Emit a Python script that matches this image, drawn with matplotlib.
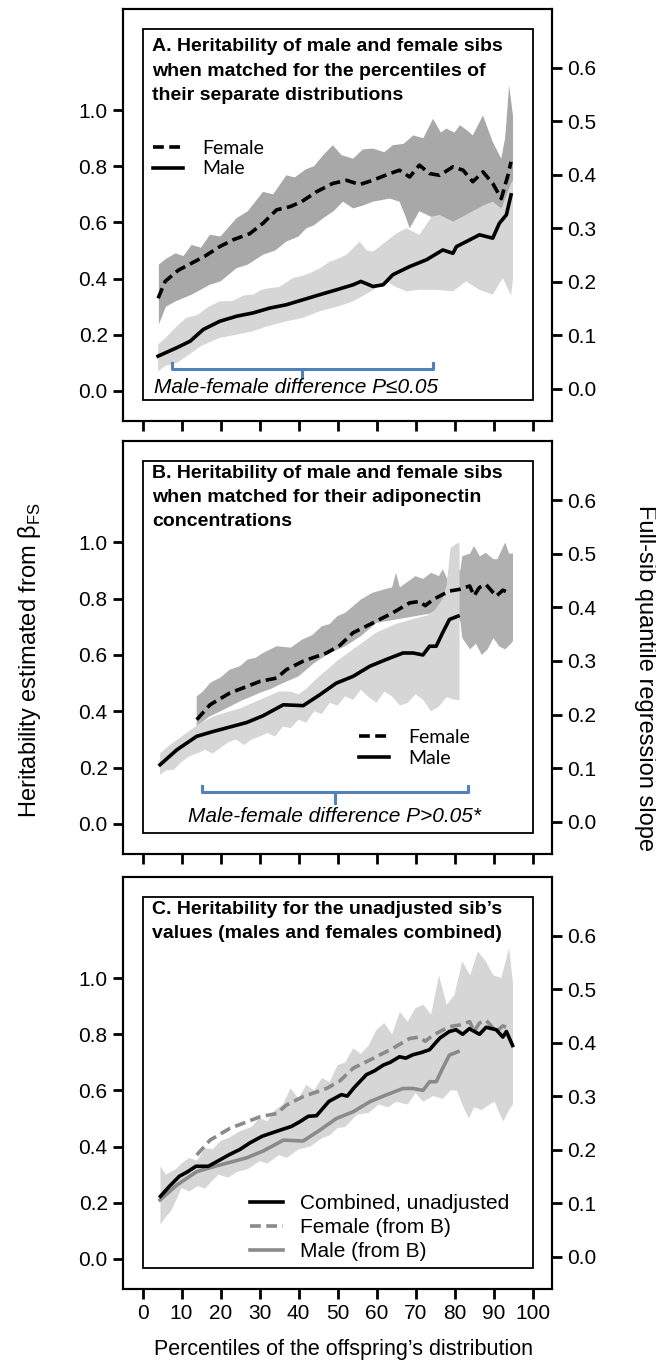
import numpy as np
import matplotlib.pyplot as plt
from matplotlib.patches import Rectangle

plt.rcParams['font.family'] = ['Liberation Sans', 'DejaVu Sans']
plt.rcParams['mathtext.fontset'] = 'custom'
plt.rcParams['mathtext.rm'] = 'Liberation Sans'

# ---- Panel A: matched on percentiles of separate distributions ----
a_fem_x = [4, 5.8, 9.2, 12.6, 16, 19.8, 23.2, 27.5, 30.9, 34.4, 37.8, 40.8, 44.6, 48.8, 52.3, 55.7,
           59, 63.4, 65.9, 68.5, 71, 73.6, 76.2, 79.6, 82.2, 84.7, 87.3, 89.8, 92, 93.7, 94.5]
a_fem_y = [0.33, 0.39, 0.43, 0.455, 0.48, 0.514, 0.538, 0.56, 0.597, 0.645, 0.656, 0.674, 0.709, 0.739,
           0.75, 0.735, 0.75, 0.774, 0.786, 0.762, 0.804, 0.774, 0.768, 0.798, 0.786, 0.745, 0.78, 0.739,
           0.685, 0.768, 0.816]
a_male_x = [4, 8.8, 12.2, 15.6, 19.8, 24.1, 28.4, 32.6, 36.9, 41.2, 45.5, 49.7, 54, 56, 59.1, 61.7,
            64.2, 68.5, 72.8, 77, 79.6, 80.5, 83.9, 86.4, 89.8, 91.5, 93.3, 94.5]
a_male_y = [0.124, 0.154, 0.177, 0.219, 0.248, 0.266, 0.278, 0.295, 0.307, 0.325, 0.343, 0.36, 0.378,
            0.39, 0.372, 0.378, 0.414, 0.443, 0.467, 0.502, 0.49, 0.514, 0.538, 0.556, 0.544, 0.597,
            0.627, 0.698]

a_fband_xu = [4.2, 6, 8.5, 10.5, 12.6, 15, 17.3, 20, 24.1, 27, 30.9, 33.5, 36.9, 39, 42, 44, 46.3, 48.8,
              51, 54, 56.5, 59.1, 62, 64.2, 67, 69.4, 72, 74.5, 76.5, 77.9, 80, 81.4, 83, 84.7, 87.3,
              89.8, 92, 93, 94, 95]
a_fband_up = [0.45, 0.47, 0.49, 0.48, 0.52, 0.51, 0.556, 0.55, 0.615, 0.64, 0.709, 0.70, 0.768, 0.76,
              0.79, 0.80, 0.839, 0.875, 0.84, 0.827, 0.86, 0.863, 0.85, 0.875, 0.88, 0.91, 0.90, 0.969,
              0.92, 0.934, 0.92, 0.946, 0.93, 0.91, 0.981, 0.887, 0.827, 0.90, 1.088, 0.98]
a_fband_xl = [4.2, 6, 8.5, 12.6, 17.3, 20, 24.1, 27, 30.9, 34, 36.9, 40, 42, 44, 46.3, 49, 51.4, 54,
              56.5, 59.1, 63.4, 65.9, 67.5, 68.5, 71, 74, 76.2, 79.6, 82, 84.7, 87.3, 89.8, 92, 94.5, 95]
a_fband_lo = [0.237, 0.30, 0.319, 0.343, 0.378, 0.39, 0.437, 0.45, 0.485, 0.50, 0.532, 0.55, 0.579,
              0.59, 0.615, 0.64, 0.674, 0.65, 0.66, 0.674, 0.685, 0.674, 0.62, 0.579, 0.64, 0.62, 0.627,
              0.603, 0.62, 0.64, 0.66, 0.674, 0.65, 0.739, 0.75]
a_mband_xu = [4, 6, 8.8, 11.2, 14, 17, 19.8, 23, 26, 28.4, 30.5, 32.6, 35, 38.6, 41, 43, 45.5, 48, 50,
              52.3, 55.7, 57.5, 59.1, 62.5, 65, 67.7, 71, 74.5, 77, 79.6, 83, 86.4, 89.8, 92.4, 94, 95]
a_mband_up = [0.165, 0.19, 0.23, 0.26, 0.27, 0.30, 0.319, 0.32, 0.34, 0.343, 0.36, 0.366, 0.37, 0.402,
              0.41, 0.42, 0.437, 0.46, 0.47, 0.485, 0.532, 0.50, 0.496, 0.532, 0.56, 0.579, 0.556,
              0.627, 0.65, 0.674, 0.685, 0.709, 0.674, 0.85, 0.99, 0.85]
a_mband_xl = [4, 6, 8.8, 12, 15, 19.8, 24, 28.4, 32, 36.9, 41, 45.5, 50, 54, 58, 62.5, 65, 67.7, 71, 75,
              79.6, 83, 86.4, 89.8, 92.4, 94.5, 95]
a_mband_lo = [0.07, 0.09, 0.10, 0.13, 0.16, 0.189, 0.20, 0.213, 0.23, 0.248, 0.26, 0.284, 0.30, 0.319,
              0.35, 0.39, 0.37, 0.355, 0.36, 0.36, 0.355, 0.39, 0.36, 0.343, 0.402, 0.34, 0.40]
a_sig = (7.5, 74.4)

# ---- Panel B: matched on adiponectin concentrations ----
b_fem_x = [13.9, 17.3, 22.4, 25.8, 30.1, 34.4, 36.9, 41.2, 47.2, 50.6, 54, 59.1, 64.2, 68.5, 71, 72.5,
           74.5, 78.7, 81.3, 83.9, 85, 86.4, 88.1, 90.7, 92.4, 94.1]
b_fem_y = [0.37, 0.423, 0.465, 0.483, 0.506, 0.518, 0.548, 0.578, 0.607, 0.634, 0.679, 0.714, 0.75,
           0.785, 0.79, 0.775, 0.797, 0.827, 0.833, 0.845, 0.81, 0.84, 0.85, 0.809, 0.83, 0.82]
b_male_x = [4.5, 8.8, 13.9, 18.1, 22.4, 26.7, 30.9, 36.1, 41.2, 45.5, 49.7, 54, 58.3, 62.5, 66.8, 69.4,
            71.9, 73.6, 75.3, 77, 78.7, 80.9]
b_male_y = [0.21, 0.263, 0.311, 0.328, 0.344, 0.36, 0.384, 0.423, 0.42, 0.459, 0.5, 0.524, 0.56, 0.584,
            0.607, 0.607, 0.6, 0.631, 0.631, 0.68, 0.726, 0.738]

b_fband_xu = [13.9, 15.5, 17.3, 20, 22.4, 25, 27, 29, 30.9, 34.4, 38, 41, 43.5, 46, 48, 50, 52, 54, 56,
              59, 62, 64, 65, 66, 68, 70, 72, 74, 76, 77, 78.5, 80, 81.5, 82, 84, 85, 86.5, 88, 90, 91,
              93, 94, 95]
b_fband_up = [0.453, 0.47, 0.50, 0.52, 0.548, 0.56, 0.584, 0.59, 0.607, 0.631, 0.626, 0.655, 0.67,
              0.702, 0.71, 0.738, 0.75, 0.773, 0.797, 0.821, 0.833, 0.84, 0.892, 0.84, 0.86, 0.88, 0.87,
              0.892, 0.88, 0.904, 0.86, 0.90, 0.90, 0.951, 0.96, 0.987, 0.95, 0.963, 0.94, 0.94, 1.0,
              0.96, 0.96]
b_fband_xl = [13.9, 17, 20, 25, 30, 33, 36, 40, 44, 48, 52, 56, 60, 65, 70, 75, 79, 81.5, 82, 84, 85.5,
              87, 88.5, 90, 91.5, 93, 94.5, 95]
b_fband_lo = [0.346, 0.38, 0.40, 0.435, 0.465, 0.48, 0.50, 0.524, 0.571, 0.607, 0.631, 0.667, 0.714,
              0.726, 0.738, 0.75, 0.74, 0.72, 0.66, 0.62, 0.64, 0.60, 0.62, 0.66, 0.63, 0.62, 0.64, 0.65]
b_mband_xu = [4.5, 7, 10, 12, 15, 18, 20, 25, 30, 35, 38, 40, 42, 45, 50, 55, 60, 65, 70, 73, 75, 77,
              78, 79, 80, 81, 81.3]
b_mband_up = [0.25, 0.28, 0.31, 0.33, 0.36, 0.38, 0.39, 0.41, 0.44, 0.47, 0.47, 0.46, 0.48, 0.52, 0.58,
              0.63, 0.68, 0.71, 0.73, 0.74, 0.76, 0.80, 0.85, 0.98, 0.99, 1.0, 0.99]
b_mband_xl = [4.5, 6, 8, 10, 12, 14, 16, 18, 20, 22, 24, 26, 28, 30, 32, 34, 36, 38, 40, 42, 44, 46, 48,
              50, 52, 54, 56, 58, 60, 62, 64, 66, 68, 70, 72, 74, 76, 78, 80, 81.3]
b_mband_lo = [0.174, 0.19, 0.192, 0.22, 0.24, 0.25, 0.263, 0.25, 0.27, 0.29, 0.30, 0.28, 0.30, 0.31,
              0.323, 0.31, 0.346, 0.34, 0.37, 0.36, 0.40, 0.39, 0.43, 0.42, 0.453, 0.44, 0.477, 0.45,
              0.43, 0.47, 0.453, 0.42, 0.43, 0.46, 0.44, 0.40, 0.417, 0.45, 0.441, 0.44]
b_sig = (15.2, 83.4)

# ---- Panel C: unadjusted, sexes combined ----
c_comb_x = [4.6, 7, 9.4, 11.5, 13.7, 16.9, 19.5, 22.2, 25, 27.5, 30.7, 34.5, 38.2, 40.5, 42.5, 44.6,
            47.8, 51, 52.5, 54.2, 57.4, 59.5, 61.7, 63.5, 65.9, 67.5, 69.3, 71.5, 73.6, 76.2, 78.7, 80.4,
            82.1, 83.8, 86.4, 88.1, 90.7, 92.4, 93.3, 94.9]
c_comb_y = [0.223, 0.26, 0.294, 0.31, 0.33, 0.33, 0.35, 0.371, 0.39, 0.413, 0.437, 0.455, 0.472, 0.49,
            0.508, 0.51, 0.561, 0.585, 0.58, 0.609, 0.656, 0.67, 0.69, 0.70, 0.72, 0.715, 0.727, 0.735,
            0.745, 0.786, 0.81, 0.816, 0.80, 0.82, 0.80, 0.825, 0.816, 0.79, 0.81, 0.76]
c_band_xu = [4.6, 6, 8.6, 10, 12, 14, 16, 18, 20, 22, 25, 28, 30, 32, 34, 36, 38, 40, 42, 44, 46, 48, 50,
             52, 54, 56, 58, 60, 62, 64, 66, 68, 70, 72, 74, 76, 78, 80, 82, 84, 86, 88, 90, 92, 94, 95]
c_band_up = [0.33, 0.30, 0.32, 0.34, 0.36, 0.35, 0.395, 0.39, 0.42, 0.43, 0.455, 0.47, 0.502, 0.49, 0.53,
             0.55, 0.608, 0.57, 0.62, 0.60, 0.644, 0.63, 0.69, 0.70, 0.75, 0.73, 0.76, 0.816, 0.84, 0.80,
             0.88, 0.845, 0.893, 0.905, 0.87, 1.01, 0.905, 0.94, 1.06, 1.01, 1.095, 1.06, 1.01, 1.0,
             1.107, 0.98]
c_band_xl = [4.6, 6, 7.3, 9, 10, 12, 14.2, 16, 18, 19.5, 22, 24.3, 27, 30, 32, 35, 37, 40, 43, 46, 48, 50,
             52, 55, 58, 60.6, 63, 65, 68, 70, 72, 74.5, 77, 79, 80.6, 82, 83.7, 85, 87, 89, 90.3, 91.5,
             92.5, 94, 95]
c_band_lo = [0.122, 0.15, 0.17, 0.22, 0.253, 0.24, 0.26, 0.25, 0.28, 0.30, 0.29, 0.31, 0.32, 0.348, 0.34,
             0.37, 0.36, 0.39, 0.40, 0.43, 0.44, 0.466, 0.47, 0.514, 0.52, 0.55, 0.54, 0.56, 0.55, 0.59,
             0.56, 0.58, 0.57, 0.60, 0.60, 0.55, 0.50, 0.54, 0.53, 0.55, 0.56, 0.52, 0.49, 0.53, 0.55]

left_ticks = [0.0, 0.2, 0.4, 0.6, 0.8, 1.0]
right_ticks = [0.0, 0.1, 0.2, 0.3, 0.4, 0.5, 0.6]
x_ticks = [0, 10, 20, 30, 40, 50, 60, 70, 80, 90, 100]

titles = ["A. Heritability of male and female sibs\nwhen matched for the percentiles of\ntheir separate distributions",
          "B. Heritability of male and female sibs\nwhen matched for their adiponectin\nconcentrations",
          "C. Heritability for the unadjusted sib\u2019s\nvalues (males and females combined)"]

DARK = '#a8a8a8'
LIGHT = '#d6d6d6'
MID = '#8a8a8a'
BLUE = '#4f81bd'
W, H = 656, 1363

fig = plt.figure(figsize=(W / 100, H / 100), dpi=100)


def band(ax, xu, yu, xl, yl, color, z):
    xs = list(xu) + list(xl)[::-1]
    ys = list(yu) + list(yl)[::-1]
    ax.fill(xs, ys, color=color, lw=0, zorder=z)


def bracket(ax, x0, x1, y, up, down):
    xm = (x0 + x1) / 2
    ax.plot([x0, x0, xm, xm, xm, x1, x1], [y + up, y, y, y - down, y, y, y + up],
            color=BLUE, lw=2.2, solid_joinstyle='round', zorder=4)
    return xm


def panel(top_px, bottom_px, title, title_y):
    ax = fig.add_axes([123 / W, 1 - bottom_px / H, 429 / W, (bottom_px - top_px) / H])
    ax.set_xlim(-5, 105)
    ax.set_ylim(-0.107, 1.36)
    ax.set_xticks(x_ticks)
    ax.set_yticks(left_ticks)
    ax.yaxis.set_major_formatter('{x:.1f}')
    ax.tick_params(direction='out', length=7, width=2, labelsize=15, pad=4)
    ax.tick_params(axis='x', labelbottom=False)
    for s in ax.spines.values():
        s.set_linewidth(1.5)
    ax.add_patch(Rectangle((0, -0.032), 100, 1.322, fill=False, lw=1.3, zorder=6))
    ax.text(2.4, title_y, title, fontweight='bold', fontsize=14, va='top', ha='left',
            linespacing=1.55, zorder=7)
    ax2 = ax.twinx()
    ax2.set_ylim(-0.06, 0.71)
    ax2.set_yticks(right_ticks)
    ax2.yaxis.set_major_formatter('{x:.1f}')
    ax2.tick_params(direction='out', length=7, width=2, labelsize=15, pad=4)
    for s in ax2.spines.values():
        s.set_linewidth(1.5)
    return ax


leg_font = {'family': 'Lato', 'size': 14}

# Panel A
ax = panel(9, 421, titles[0], 1.255)
band(ax, a_mband_xu, a_mband_up, a_mband_xl, a_mband_lo, LIGHT, 1)
band(ax, a_fband_xu, a_fband_up, a_fband_xl, a_fband_lo, DARK, 2)
lf, = ax.plot(a_fem_x, a_fem_y, color='black', lw=2.6, dashes=(3, 1.5), zorder=3)
lm, = ax.plot(a_male_x, a_male_y, color='black', lw=2.6, zorder=3)
xm = bracket(ax, a_sig[0], a_sig[1], 0.078, 0.022, 0.025)
ax.text(39.3, 0.012, 'Male-female difference P\u22640.05', style='italic', fontsize=15,
        ha='center', va='center')
ax.legend([lf, lm], ['Female', 'Male'], loc='center left', bbox_to_anchor=(153 / W, 1 - 158.5 / H),
          bbox_transform=fig.transFigure, frameon=False, borderpad=0, borderaxespad=0,
          handlelength=1.55, handletextpad=1.0, labelspacing=0.2, prop=leg_font)

# Panel B
ax = panel(441, 854, titles[1], 1.275)
band(ax, b_fband_xu, b_fband_up, b_fband_xl, b_fband_lo, '#b0b0b0', 1)
band(ax, b_mband_xu, b_mband_up, b_mband_xl, b_mband_lo, LIGHT, 2)
lf, = ax.plot(b_fem_x, b_fem_y, color='black', lw=2.6, dashes=(3, 1.5), zorder=3)
lm, = ax.plot(b_male_x, b_male_y, color='black', lw=2.6, zorder=3)
xm = bracket(ax, b_sig[0], b_sig[1], 0.114, 0.021, 0.04)
ax.text(xm, 0.025, 'Male-female difference P>0.05*', style='italic', fontsize=15,
        ha='center', va='center')
ax.legend([lf, lm], ['Female', 'Male'], loc='center left', bbox_to_anchor=(359 / W, 1 - 748 / H),
          bbox_transform=fig.transFigure, frameon=False, borderpad=0, borderaxespad=0,
          handlelength=1.55, handletextpad=1.0, labelspacing=0.2, prop=leg_font)

# Panel C
ax = panel(877, 1289, titles[2], 1.275)
ax.tick_params(axis='x', labelbottom=True)
band(ax, c_band_xu, c_band_up, c_band_xl, c_band_lo, LIGHT, 1)
lf, = ax.plot(b_fem_x, b_fem_y, color=MID, lw=2.6, dashes=(3, 1.5), zorder=3)
lm, = ax.plot(b_male_x, b_male_y, color=MID, lw=2.6, zorder=3)
lc, = ax.plot(c_comb_x, c_comb_y, color='black', lw=2.6, zorder=4)
ax.legend([lc, lf, lm], ['Combined, unadjusted', 'Female (from B)', 'Male (from B)'],
          loc='center left', bbox_to_anchor=(250 / W, 1 - 1227.5 / H),
          bbox_transform=fig.transFigure, frameon=False, borderpad=0, borderaxespad=0,
          handlelength=1.6, handletextpad=0.8, labelspacing=0.25, prop={'size': 15})

fig.text(30 / W, 1 - 660 / H, 'Heritability estimated from \u03b2$_{\\mathrm{FS}}$', rotation=90,
         ha='center', va='center', fontsize=17)
fig.text(645 / W, 1 - 678 / H, 'Full-sib quantile regression slope', rotation=270,
         ha='center', va='center', fontsize=17)
fig.text(343 / W, 1 - 1350 / H, 'Percentiles of the offspring\u2019s distribution',
         ha='center', va='center', fontsize=15.5)

fig.savefig('out.png', dpi=100)
